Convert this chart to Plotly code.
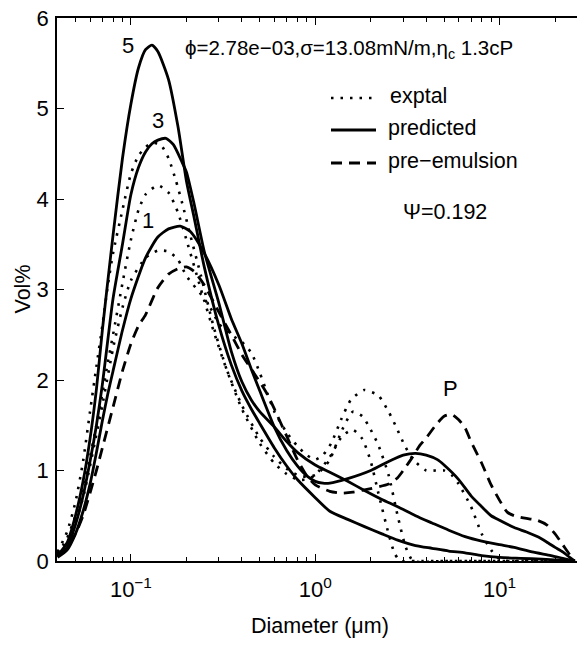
import plotly.graph_objects as go

# ---------------- data ----------------
d_pred5 = [0.04, 0.045, 0.05, 0.055, 0.06, 0.065, 0.07, 0.075, 0.08, 0.09, 0.10, 0.11, 0.12, 0.13, 0.14,
           0.16, 0.18, 0.20, 0.22, 0.25, 0.30, 0.35, 0.40, 0.45, 0.50, 0.60, 0.70, 0.80, 1.0, 1.2, 1.5,
           1.85, 2.3, 2.8, 3.5, 4.3, 5.3, 6.5, 8.0, 10, 13, 17, 21, 25.5]
v_pred5 = [0.06, 0.2, 0.5, 0.88, 1.35, 1.9, 2.55, 3.1, 3.6, 4.45, 5.05, 5.45, 5.65, 5.70, 5.63,
           5.32, 4.8, 4.2, 3.8, 3.25, 2.6, 2.17, 1.88, 1.68, 1.52, 1.25, 1.05, 0.9, 0.7, 0.55, 0.46,
           0.38, 0.3, 0.23, 0.17, 0.14, 0.11, 0.09, 0.06, 0.04, 0.03, 0.02, 0.01, 0.0]

d_pred3 = [0.04, 0.045, 0.05, 0.055, 0.06, 0.065, 0.07, 0.075, 0.08, 0.09, 0.10, 0.11, 0.12, 0.13, 0.14,
           0.155, 0.17, 0.19, 0.20, 0.22, 0.25, 0.30, 0.35, 0.40, 0.45, 0.50, 0.60, 0.70, 0.80, 1.0,
           1.2, 1.5, 1.85, 2.3, 2.8, 3.5, 4.3, 5.3, 6.5, 8.0, 10, 12, 15, 19, 22, 25.5]
v_pred3 = [0.05, 0.15, 0.4, 0.72, 1.1, 1.5, 1.95, 2.45, 2.9, 3.5, 4.05, 4.35, 4.52, 4.61, 4.65,
           4.67, 4.6, 4.4, 4.3, 3.95, 3.42, 2.85, 2.32, 1.98, 1.78, 1.65, 1.48, 1.32, 1.2, 1.06,
           0.98, 0.88, 0.78, 0.68, 0.6, 0.5, 0.42, 0.34, 0.27, 0.22, 0.18, 0.15, 0.1, 0.06, 0.03, 0.0]

d_pred1 = [0.04, 0.045, 0.05, 0.055, 0.06, 0.065, 0.07, 0.075, 0.08, 0.09, 0.10, 0.12, 0.14, 0.16, 0.185,
           0.21, 0.25, 0.30, 0.35, 0.40, 0.45, 0.50, 0.60, 0.70, 0.80, 0.90, 1.0, 1.1, 1.2, 1.5, 2.0,
           2.5, 3.0, 3.5, 4.0, 4.6, 5.0, 6.0, 7.0, 8.0, 9.0, 10, 12, 14, 16, 18, 20, 22, 24, 25.5]
v_pred1 = [0.04, 0.12, 0.3, 0.55, 0.85, 1.2, 1.55, 1.85, 2.1, 2.55, 2.9, 3.35, 3.58, 3.67, 3.70,
           3.64, 3.4, 3.05, 2.68, 2.4, 2.12, 1.88, 1.48, 1.22, 1.05, 0.94, 0.88, 0.86, 0.86, 0.91, 1.0,
           1.1, 1.17, 1.19, 1.17, 1.12, 1.06, 0.9, 0.72, 0.6, 0.5, 0.45, 0.37, 0.32, 0.27, 0.21, 0.15, 0.1, 0.04, 0.0]

d_exp5 = [0.04, 0.045, 0.05, 0.055, 0.06, 0.065, 0.07, 0.075, 0.08, 0.09, 0.10, 0.11, 0.12, 0.13, 0.145,
          0.16, 0.175, 0.19, 0.21, 0.24, 0.28, 0.33, 0.40, 0.50, 0.60, 0.70, 0.80, 0.90, 1.0, 1.2, 1.4,
          1.6, 1.8, 2.0, 2.2, 2.5, 2.7, 2.9, 3.5, 5, 8, 12, 18, 25.5]
v_exp5 = [0.1, 0.32, 0.65, 1.1, 1.65, 2.15, 2.6, 3.05, 3.4, 3.88, 4.28, 4.48, 4.57, 4.62, 4.6,
          4.45, 4.21, 3.95, 3.6, 3.15, 2.6, 2.12, 1.68, 1.3, 1.08, 0.96, 0.9, 0.9, 0.95, 1.15, 1.38,
          1.45, 1.35, 1.1, 0.75, 0.3, 0.08, 0.0, 0.0, 0.0, 0.0, 0.0, 0.0, 0.0]

d_exp3 = [0.04, 0.045, 0.05, 0.055, 0.06, 0.065, 0.07, 0.075, 0.08, 0.09, 0.10, 0.11, 0.12, 0.14, 0.16,
          0.18, 0.20, 0.24, 0.28, 0.33, 0.40, 0.50, 0.60, 0.70, 0.80, 0.90, 1.0, 1.1, 1.2, 1.4, 1.6,
          1.8, 2.0, 2.2, 2.5, 2.8, 3.1, 3.4, 5, 8, 12, 18, 25.5]
v_exp3 = [0.08, 0.25, 0.5, 0.82, 1.15, 1.5, 1.85, 2.2, 2.5, 3.07, 3.55, 3.88, 4.05, 4.15, 4.07,
          3.85, 3.55, 3.0, 2.55, 2.12, 1.72, 1.36, 1.15, 1.02, 0.95, 0.93, 0.95, 1.02, 1.12, 1.45, 1.65,
          1.6, 1.45, 1.28, 0.95, 0.5, 0.15, 0.0, 0.0, 0.0, 0.0, 0.0, 0.0]

d_exp1 = [0.04, 0.045, 0.05, 0.055, 0.06, 0.065, 0.07, 0.08, 0.09, 0.10, 0.12, 0.14, 0.16, 0.18, 0.20,
          0.25, 0.28, 0.30, 0.35, 0.40, 0.45, 0.50, 0.55, 0.60, 0.70, 0.80, 0.90, 1.0, 1.1, 1.22, 1.38,
          1.56, 1.84, 2.0, 2.2, 2.5, 2.75, 3.05, 3.4, 4.0, 4.5, 5.0, 5.5, 6.0, 7.0, 8.0, 9.0, 10, 11,
          15, 20, 25.5]
v_exp1 = [0.08, 0.2, 0.42, 0.7, 1.05, 1.4, 1.72, 2.35, 2.8, 3.1, 3.35, 3.43, 3.42, 3.33, 3.15,
          2.9, 2.74, 2.62, 2.5, 2.42, 2.3, 2.08, 1.85, 1.65, 1.42, 1.27, 1.17, 1.12, 1.17, 1.3, 1.56,
          1.78, 1.89, 1.87, 1.83, 1.65, 1.48, 1.28, 1.12, 1.0, 1.0, 1.0, 0.95, 0.85, 0.6, 0.3, 0.12, 0.02, 0.0,
          0.0, 0.0, 0.0]

d_pre = [0.04, 0.045, 0.05, 0.055, 0.06, 0.065, 0.07, 0.08, 0.09, 0.10, 0.11, 0.12, 0.14, 0.16, 0.18,
         0.20, 0.22, 0.25, 0.30, 0.35, 0.40, 0.45, 0.50, 0.55, 0.60, 0.70, 0.80, 0.90, 1.0, 1.2, 1.4,
         1.6, 2.0, 2.5, 2.8, 3.0, 3.3, 3.7, 4.0, 4.5, 5.0, 5.5, 6.0, 6.5, 7.0, 8.0, 9.0, 10, 11, 12,
         14, 16, 18, 20, 22, 24, 25.5]
v_pre = [0.05, 0.15, 0.3, 0.5, 0.75, 1.0, 1.25, 1.7, 2.1, 2.4, 2.6, 2.72, 3.02, 3.17, 3.23,
         3.25, 3.2, 3.05, 2.75, 2.5, 2.28, 2.12, 1.98, 1.84, 1.68, 1.38, 1.12, 0.94, 0.84, 0.77, 0.75,
         0.76, 0.8, 0.85, 0.92, 1.0, 1.12, 1.28, 1.36, 1.5, 1.6, 1.62, 1.56, 1.47, 1.32, 1.08, 0.84, 0.67, 0.54, 0.5,
         0.47, 0.45, 0.4, 0.3, 0.18, 0.07, 0.0]

x_tickvals = [0.1, 1, 10]
x_ticktext = ["10<sup>−1</sup>", "10<sup>0</sup>", "10<sup>1</sup>"]
x_minor = [0.04, 0.05, 0.06, 0.07, 0.08, 0.09, 0.2, 0.3, 0.4, 0.5, 0.6, 0.7, 0.8, 0.9,
           2, 3, 4, 5, 6, 7, 8, 9, 20]
y_tickvals = [0, 1, 2, 3, 4, 5, 6]

# ---------------- styling ----------------
FONT = "Liberation Sans, Arial, Helvetica, sans-serif"
FS = 22
W, H = 577, 646
L, T, B = 57, 18, 85
PW, PH = W - L, H - T - B

SOLID = dict(color="black", width=2.8)
DOT = dict(color="black", width=2.6, dash="2.5px,7px")
DASH = dict(color="black", width=2.8, dash="11px,7px")

fig = go.Figure()
series = [
    ("predicted", d_pred5, v_pred5, SOLID),
    ("predicted", d_pred3, v_pred3, SOLID),
    ("predicted", d_pred1, v_pred1, SOLID),
    ("exptal", d_exp5, v_exp5, DOT),
    ("exptal", d_exp3, v_exp3, DOT),
    ("exptal", d_exp1, v_exp1, DOT),
    ("pre−emulsion", d_pre, v_pre, DASH),
]
for name, xs, ys, ln in series:
    fig.add_trace(go.Scatter(x=xs, y=ys, mode="lines", name=name,
                             line=dict(**ln, shape="spline", smoothing=0.6),
                             showlegend=False, hoverinfo="skip"))

def px(xp):
    return (xp - L) / PW

def py(yp):
    return (T + PH - yp) / PH

ann = []
def text(s, xp, yp, xanchor="center", size=FS, angle=0):
    ann.append(dict(text=s, x=px(xp), y=py(yp), xref="paper", yref="paper", xanchor=xanchor,
                    yanchor="middle", showarrow=False, textangle=angle,
                    font=dict(family=FONT, size=size, color="black")))

text("5", 128, 46)
text("3", 158, 121)
text("1", 148, 220)
text("P", 450, 389)
text("ϕ=2.78e−03,σ=13.08mN/m,η<sub>c</sub> 1.3cP", 183, 49, xanchor="left", size=20.5)
text("exptal", 388, 96, xanchor="left", size=21.5)
text("predicted", 386, 128, xanchor="left", size=21.5)
text("pre−emulsion", 386, 161, xanchor="left", size=21.5)
text("Ψ=0.192", 445, 212, size=21.5)
text("Vol%", 22, T + PH / 2, angle=-90, size=21.5)
text("Diameter (μm)", 320, 626, size=21.5)

shapes = []
for yy, ln in [(98, DOT), (130, SOLID), (163, DASH)]:
    shapes.append(dict(type="line", xref="paper", yref="paper", x0=px(331), x1=px(376),
                       y0=py(yy), y1=py(yy), line=ln))

fig.update_layout(
    width=W, height=H,
    margin=dict(l=L, r=0, t=T, b=B, pad=0),
    paper_bgcolor="white", plot_bgcolor="white",
    font=dict(family=FONT, size=FS, color="black"),
    showlegend=False,
    annotations=ann,
    shapes=shapes,
    xaxis=dict(type="log", range=[-1.401, 1.42], showline=True, linecolor="black", linewidth=1.5,
               mirror="ticks", ticks="inside", ticklen=7, tickcolor="black", tickwidth=1,
               tickvals=x_tickvals, ticktext=x_ticktext, showgrid=False, zeroline=False,
               tickfont=dict(family=FONT, size=FS), ticklabelstandoff=8,
               minor=dict(tickvals=x_minor, ticks="inside", ticklen=4, tickcolor="black", tickwidth=1,
                          showgrid=False)),
    yaxis=dict(range=[0, 6], showline=True, linecolor="black", linewidth=1.5, mirror=False,
               ticks="inside", ticklen=7, tickcolor="black", tickwidth=1, tickvals=y_tickvals,
               showgrid=False, zeroline=False, tickfont=dict(family=FONT, size=FS),
               ticklabelstandoff=2),
)

fig.write_html("out.html")
